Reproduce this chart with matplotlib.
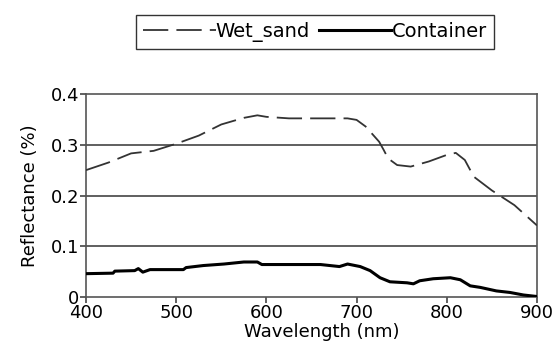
import matplotlib
matplotlib.use('Agg')
from matplotlib import pyplot as plt

# wet sand reflectance (dashed)
wet_x = [400, 425, 450, 475, 500, 525, 550, 575, 590, 600, 625, 650, 690, 700, 710,
         720, 725, 730, 735, 745, 760, 780, 800, 810, 820, 830, 850, 875, 900]
wet_y = [0.250, 0.265, 0.283, 0.288, 0.302, 0.318, 0.340, 0.353, 0.358, 0.355, 0.352,
         0.352, 0.352, 0.349, 0.336, 0.316, 0.306, 0.290, 0.273, 0.260, 0.257, 0.267,
         0.280, 0.284, 0.270, 0.237, 0.210, 0.181, 0.141]

# container reflectance (solid)
cont_x = [400, 430, 432, 454, 458, 463, 471, 508, 511, 530, 553, 575, 590, 595, 660,
          681, 690, 704, 715, 726, 737, 756, 763, 770, 785, 804, 815, 826, 837, 855,
          870, 885, 900]
cont_y = [0.046, 0.047, 0.051, 0.052, 0.056, 0.049, 0.054, 0.054, 0.058, 0.062, 0.065,
          0.069, 0.069, 0.064, 0.064, 0.060, 0.065, 0.060, 0.052, 0.038, 0.030, 0.028,
          0.026, 0.032, 0.036, 0.038, 0.034, 0.022, 0.019, 0.012, 0.009, 0.004, 0.001]

xticks = [400, 500, 600, 700, 800, 900]
yticks = [0, 0.1, 0.2, 0.3, 0.4]
ylabels = ['0', '0.1', '0.2', '0.3', '0.4']

fig = plt.figure(figsize=(5.53, 3.53), dpi=100)
ax = fig.add_axes([0.1555, 0.1586, 0.8155, 0.5751])

for v in yticks[1:4]:
    ax.axhline(v, color='#444444', lw=1.2, zorder=1)

ax.plot(wet_x, wet_y, color='#333333', lw=1.3, dashes=(14, 4.5), label='Wet_sand', zorder=3)
ax.plot(cont_x, cont_y, color='black', lw=2.2, label='Container', zorder=3)

ax.set_xlim(400, 900)
ax.set_ylim(0, 0.4)
ax.set_xticks(xticks)
ax.set_yticks(yticks)
ax.set_yticklabels(ylabels)
ax.tick_params(labelsize=13, color='#444444', length=4, width=1.2, pad=1)
for s in ax.spines.values():
    s.set_color('#555555')
    s.set_linewidth(1.2)

ax.set_xlabel('Wavelength (nm)', fontsize=13, labelpad=0)
ax.xaxis.set_label_coords(0.522, -0.13)
ax.set_ylabel('Reflectance (%)', fontsize=13, labelpad=8)

fig.legend(loc='center', bbox_to_anchor=(0.569, 0.909), ncol=2, fontsize=14,
           handlelength=3.75, handletextpad=0, columnspacing=0.45, fancybox=False,
           edgecolor='#333333', framealpha=1, borderpad=0.35)

plt.savefig('out.png')
